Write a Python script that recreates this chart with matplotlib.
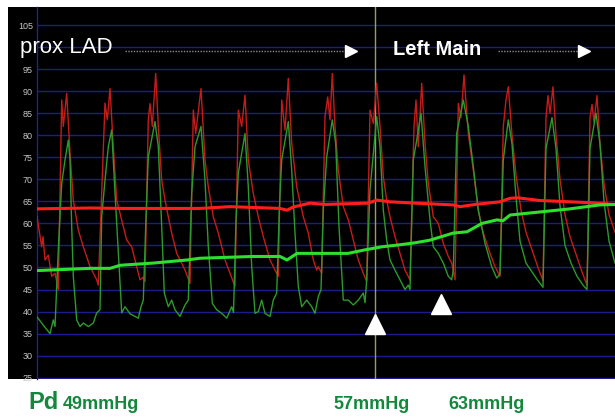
import matplotlib
matplotlib.use("Agg")
import matplotlib.pyplot as plt
from matplotlib import font_manager
from matplotlib.patches import Rectangle


# ------------------------------------------------------------
# Pressure traces (time in samples, pressure in mmHg)
# ------------------------------------------------------------
# Pa (aortic, red) phasic trace
PA_T = [37, 41.7, 43, 45, 48.3, 51.7, 55, 58.3, 61.7, 63.3, 66.7, 70, 73.3, 78.3,
        83.3, 90, 96.7, 98.3, 105, 107.3, 110, 113.3, 116.7, 121.7, 126.7, 131.7,
        136.7, 140, 143.3, 145, 148.3, 150, 152.3, 155.7, 158.3, 161.7, 165, 168.3,
        171.7, 176.7, 181.7, 185, 190, 193.3, 195.7, 201, 205, 208.3, 213.3, 218.3,
        225, 230, 235, 238.3, 241.7, 245, 248.3, 253.3, 258.3, 263.3, 270, 275,
        278.3, 281.7, 285, 288.3, 291.7, 296.7, 303.3, 308.3, 313.3, 316.7, 318.3,
        321.7, 325, 327.7, 330, 332.3, 335, 338.3, 343.3, 348.3, 353.3, 358.3,
        363.3, 366.7, 370, 373.3, 376.7, 380, 383.3, 386.7, 390, 395, 400, 405,
        410, 414, 416, 418.3, 421.7, 425, 428.3, 433.3, 438.3, 443.3, 448.3, 451.7,
        455, 458.3, 461, 464, 468.3, 473.3, 478.3, 483.3, 490, 495, 500, 503.3,
        506, 508.3, 512, 516, 521, 526, 532, 538, 543, 546, 548, 550, 553, 556,
        560, 565, 570, 576, 582, 587, 590, 592, 594, 597, 600, 604, 609, 615]
PA_P = [61.5, 54.7, 57, 51.7, 52.8, 48, 48.7, 45, 88, 82, 89.5, 76, 65.3, 58.5,
        54.7, 50.2, 47.2, 46, 87.3, 83.5, 90.6, 77.4, 65.3, 60.8, 56.2, 54.7,
        50.2, 47.2, 47.8, 46.8, 83.5, 87.2, 82, 94, 82, 69.8, 65.3, 61.5,
        57.8, 53.2, 51, 49.4, 46.4, 85.7, 80.4, 90.6, 74.4, 68.3, 61.5, 57.8,
        51.7, 48.7, 45.7, 85.7, 82, 89.1, 74.4, 66.8, 61.5, 57, 51.7, 49.4,
        48, 88, 81.2, 92.9, 78.2, 68.3, 61.5, 57.8, 51.7, 49.4, 50.2,
        48.7, 84.2, 88.7, 83.5, 94, 82, 72.1, 63.8, 60.8, 56.2, 51.7,
        48.7, 46.8, 85.7, 82.7, 91.8, 82, 70.6, 65.3, 61.5, 57, 53.2, 49.4,
        47.2, 82, 88, 77.4, 91.8, 78.2, 69.1, 61.5, 60, 55.5, 52.5, 51,
        47.2, 87.2, 84, 93.7, 80.4, 72.1, 63, 57.8, 53.2, 50.2, 48, 82,
        88, 91, 80, 71, 63, 58, 54, 50, 47, 84, 89, 85, 91, 80,
        70, 62, 57, 53, 49, 46, 84, 87, 83, 89, 78, 69, 62, 58]

# Pd (distal, green) phasic trace
PD_T = [37, 43, 50, 53.3, 55, 56.7, 58.5, 61.7, 65, 68.3, 70, 71.7, 73.3, 76.7,
        80, 83.3, 88.3, 93.3, 96.7, 100, 101.7, 105, 108.3, 111.7, 115, 118.3,
        121.7, 125, 130, 138.3, 141, 143.3, 145.7, 148.3, 155, 158.3, 161.7,
        164.3, 168.3, 171.7, 175, 180, 185, 188.3, 191.7, 195, 201, 205, 208.3,
        212.3, 216.7, 221.7, 226.7, 231.7, 233.5, 236, 238.3, 245, 248.3, 251.7,
        255, 258.3, 261.7, 265, 270, 273.3, 276.7, 279.3, 281.7, 288.3, 291.7,
        295, 298.3, 301.7, 306.7, 311.7, 315, 318.3, 321, 323.3, 326.7, 332.3,
        335.7, 339, 343.3, 348.3, 353.3, 358.3, 363.3, 365, 366.7, 370, 373.3,
        376.7, 380, 383.3, 386.7, 390, 395, 400, 405, 408.3, 410, 413.3, 416.7,
        421, 425, 430, 433.3, 438.3, 443.3, 448.3, 451.7, 453.3, 456.7, 463.3,
        468.3, 473.3, 478.3, 485, 491.7, 496.7, 500, 503.3, 508.3, 512, 516, 520,
        526, 532, 538, 543, 546, 552, 556, 560, 565, 571, 577, 583, 587, 590,
        596, 600, 604, 609, 615]
PD_P = [38.8, 37, 35, 38.1, 36.6, 45.7, 55, 69, 74.4, 78.9, 74.4, 59.3, 48, 38.1,
        36.6, 37.4, 36.6, 37.4, 39.7, 40.4, 61.5, 69.8, 77.4, 81.2, 66.9, 53.3,
        39.7, 41.1, 39.5, 38.5, 41.1, 42.6, 59.3, 75.1, 83.1, 77.4, 59.3,
        44.2, 41.1, 42.6, 40.4, 38.9, 41.5, 42.6, 66.8, 77.4, 82, 69.8, 54.7,
        41.9, 40.4, 39.6, 38.5, 41.1, 39.8, 60.8, 71.4, 80.4, 68.3, 50.2,
        39.6, 40, 42.6, 39.6, 38.9, 42.6, 44.2, 63, 74.4, 83.1, 72.1,
        57.8, 45.7, 41.1, 42.6, 41.1, 39.6, 43.4, 45, 63, 75.1, 83.5,
        78.2, 59.3, 42.6, 42.6, 41.5, 42.6, 44.2, 42, 47.2, 67.6, 75.9,
        84.2, 77.4, 63, 56.2, 51.7, 49.4, 47.2, 45, 46, 45, 74.4, 78.9,
        85, 72.9, 60.8, 54.7, 53.2, 51, 48, 47.2, 49.4, 80.4, 88,
        82, 72.9, 63, 55.5, 50.2, 47.6, 48.5, 74.4, 83.5, 78, 66, 56,
        51, 49, 47, 45.5, 77, 84, 77, 64, 55, 51, 48, 46, 45, 77,
        85, 78, 65, 56, 51]

# Mean pressures
PA_MEAN_T = [37, 90, 120, 200, 230, 280, 287, 293, 310, 325, 368, 377, 390, 415,
             453, 460, 475, 500, 510, 518, 540, 560, 590, 615]
PA_MEAN_P = [63.3, 63.5, 63.4, 63.4, 63.8, 63.4, 63.0, 63.7, 64.6, 64.3, 64.6, 65.3,
             64.9, 64.6, 64.2, 63.8, 64.3, 64.9, 65.7, 65.8, 65.2, 65.0, 64.7, 64.3]

PD_MEAN_T = [37, 90, 110, 120, 153, 187, 200, 253, 280, 287, 297, 348, 365, 382,
             398, 415, 430, 453, 467, 482, 497, 503, 510, 540, 570, 600, 615]
PD_MEAN_P = [49.3, 49.8, 49.8, 50.5, 51.0, 51.7, 52.1, 52.5, 52.5, 51.7, 53.2, 53.2,
             54.0, 54.7, 55.1, 55.6, 56.2, 57.8, 58.1, 60.0, 60.8, 60.6, 61.9, 62.6,
             63.3, 64.2, 64.3]

# Pullback markers
PULLBACK_T = 375
MARK_T = [375, 441]
MARK_P = [37.2, 41.7]

Y_TICKS = list(range(25, 110, 5))
PD_LABELS = ["49mmHg", "57mmHg", "63mmHg"]


# ------------------------------------------------------------
# Fonts
# ------------------------------------------------------------
names = {f.name for f in font_manager.fontManager.ttflist}
if "Liberation Sans Narrow" in names:
    NARROW = "Liberation Sans Narrow"
    PD_SIZE, MM_SIZE, TICK_SIZE = 20, 14, 7.5
else:
    NARROW = "Liberation Sans"
    PD_SIZE, MM_SIZE, TICK_SIZE = 17, 13, 6.5
plt.rcParams["font.family"] = ["Liberation Sans", "DejaVu Sans"]


# ------------------------------------------------------------
# Figure
# ------------------------------------------------------------
W, H = 615, 417
fig = plt.figure(figsize=(W / 100, H / 100), dpi=100, facecolor="white")
ax = fig.add_axes([37 / W, 38 / H, 578 / W, 372 / H])
ax.set_facecolor("black")

# black strip behind the tick labels
fig.patches.append(Rectangle((8 / W, 38 / H), 29 / W, 372 / H,
                             transform=fig.transFigure, facecolor="black",
                             edgecolor="none", zorder=-1))

ax.set_xlim(37, 615)
ax.set_ylim(24.7, 109.1)

for v in Y_TICKS:
    ax.axhline(v, color="#1c1c8e", lw=1.0, zorder=1)

ax.axvline(PULLBACK_T, color="#9c9c5c", lw=1.0, zorder=2)

ax.plot(PA_T, PA_P, color="#c41c1c", lw=1.0, zorder=3)
ax.plot(PD_T, PD_P, color="#2c9a2c", lw=1.0, zorder=3)
ax.plot(PA_MEAN_T, PA_MEAN_P, color="#ff1e1e", lw=2.2, zorder=4)
ax.plot(PD_MEAN_T, PD_MEAN_P, color="#2ee02e", lw=2.2, zorder=4)

ax.plot(MARK_T, MARK_P, linestyle="none", marker="^", color="white",
        markersize=15, zorder=5)

# location labels with dotted arrows
ax.text(20, 100, "prox LAD", color="white", fontsize=16, va="center",
        ha="left", clip_on=False, zorder=6)
ax.plot([125, 347], [99.2, 99.2], color="#8c8c8c", lw=1.0, ls=(0, (1, 1)),
        zorder=5)
ax.plot([351], [99.2], marker=">", color="white", markersize=9, zorder=5)

ax.text(393, 99.4, "Left Main", color="white", fontsize=14.5,
        fontweight="bold", va="center", ha="left", zorder=6)
ax.plot([498, 580], [99.2, 99.2], color="#8c8c8c", lw=1.0, ls=(0, (1, 1)),
        zorder=5)
ax.plot([584], [99.2], marker=">", color="white", markersize=9, zorder=5)

# axes styling; the 100 label sits under "prox LAD" in the original
ax.set_xticks([])
ax.set_yticks(Y_TICKS)
ax.set_yticklabels(["" if v == 100 else str(v) for v in Y_TICKS],
                   fontsize=TICK_SIZE, color="#c8c8c8", family=NARROW)
ax.tick_params(axis="y", length=0, pad=3)
for side in ["top", "right", "bottom"]:
    ax.spines[side].set_visible(False)
ax.spines["left"].set_color("#22228a")
ax.spines["left"].set_linewidth(1.0)

# Pd readings below the trace
green = "#13883c"
base = (H - 409) / H
fig.text(28 / W, base, "Pd", color=green, fontsize=PD_SIZE, fontweight="bold",
         family=NARROW, va="baseline")
for x_px, label in zip([63, 333, 448], PD_LABELS):
    fig.text(x_px / W, base, label, color=green, fontsize=MM_SIZE,
             fontweight="bold", family=NARROW, va="baseline")

fig.savefig("out.png", dpi=100, facecolor="white")
